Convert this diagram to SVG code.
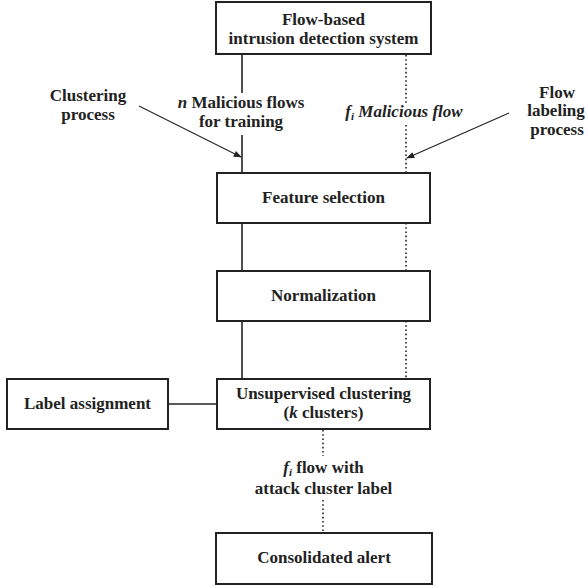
<svg xmlns="http://www.w3.org/2000/svg" width="588" height="588" viewBox="0 0 588 588">
  <style>
    .box { fill: #ffffff; stroke: #222222; stroke-width: 2; }
    .solid { stroke: #222222; stroke-width: 1.6; fill: none; }
    .dot { stroke: #222222; stroke-width: 1.6; fill: none; stroke-dasharray: 1.6 2.6; }
    .arrow { stroke: #222222; stroke-width: 1.1; fill: none; marker-end: url(#head); }
    text { font-family: "Liberation Serif", "Times New Roman", serif; font-weight: bold; font-size: 17px; fill: #222222; text-anchor: middle; }
    .it { font-style: italic; }
  </style>
  <defs>
    <marker id="head" viewBox="0 0 10 10" refX="9" refY="5" markerWidth="10" markerHeight="8" markerUnits="userSpaceOnUse" orient="auto">
      <path d="M0,1 L10,5 L0,9 z" fill="#222222"/>
    </marker>
  </defs>
  <rect width="588" height="588" fill="#ffffff"/>

  <g id="connectors">
    <!-- training path (solid) -->
    <line class="solid" x1="242" y1="54" x2="242" y2="93"/>
    <line class="solid" x1="242" y1="135" x2="242" y2="173"/>
    <line class="solid" x1="242" y1="223" x2="242" y2="271"/>
    <line class="solid" x1="242" y1="321" x2="242" y2="379"/>
    <line class="solid" x1="168" y1="404" x2="217" y2="404"/>
    <!-- labeling path (dotted) -->
    <line class="dot" x1="406" y1="55" x2="406" y2="103"/>
    <line class="dot" x1="406" y1="125" x2="406" y2="173"/>
    <line class="dot" x1="406" y1="223" x2="406" y2="271"/>
    <line class="dot" x1="406" y1="321" x2="406" y2="379"/>
    <line class="dot" x1="323" y1="430" x2="323" y2="456"/>
    <line class="dot" x1="323" y1="500" x2="323" y2="533"/>
    <!-- process pointers -->
    <line class="arrow" x1="139" y1="106" x2="241" y2="157"/>
    <line class="arrow" x1="509" y1="113" x2="407" y2="158"/>
  </g>

  <g id="ids">
    <rect class="box" x="216" y="2" width="215" height="52"/>
    <text x="323.5" y="25">Flow-based</text>
    <text x="323.5" y="44">intrusion detection system</text>
  </g>

  <g id="feature-selection">
    <rect class="box" x="217" y="173" width="213" height="50"/>
    <text x="323.5" y="203">Feature selection</text>
  </g>

  <g id="normalization">
    <rect class="box" x="217" y="271" width="213" height="50"/>
    <text x="323.5" y="301">Normalization</text>
  </g>

  <g id="clustering">
    <rect class="box" x="217" y="379" width="213" height="50"/>
    <text x="323.5" y="399">Unsupervised clustering</text>
    <text x="323.5" y="418">(<tspan class="it">k</tspan> clusters)</text>
  </g>

  <g id="label-assignment">
    <rect class="box" x="7" y="379" width="161" height="50"/>
    <text x="87.5" y="409">Label assignment</text>
  </g>

  <g id="consolidated-alert">
    <rect class="box" x="216" y="533" width="216" height="51"/>
    <text x="324" y="563">Consolidated alert</text>
  </g>

  <g id="labels">
    <text x="88" y="101">Clustering</text>
    <text x="88" y="120">process</text>
    <text x="241" y="108"><tspan class="it">n</tspan> Malicious flows</text>
    <text x="241" y="127">for training</text>
    <text x="404" y="117" class="it">f<tspan font-size="11" dy="3">i</tspan><tspan dy="-3"> Malicious flow</tspan></text>
    <text x="557" y="98">Flow</text>
    <text x="556" y="116">labeling</text>
    <text x="557" y="135">process</text>
    <text x="323.5" y="473"><tspan class="it">f</tspan><tspan class="it" font-size="11" dy="3">i</tspan><tspan dy="-3"> flow with</tspan></text>
    <text x="323.5" y="494">attack cluster label</text>
  </g>
</svg>
